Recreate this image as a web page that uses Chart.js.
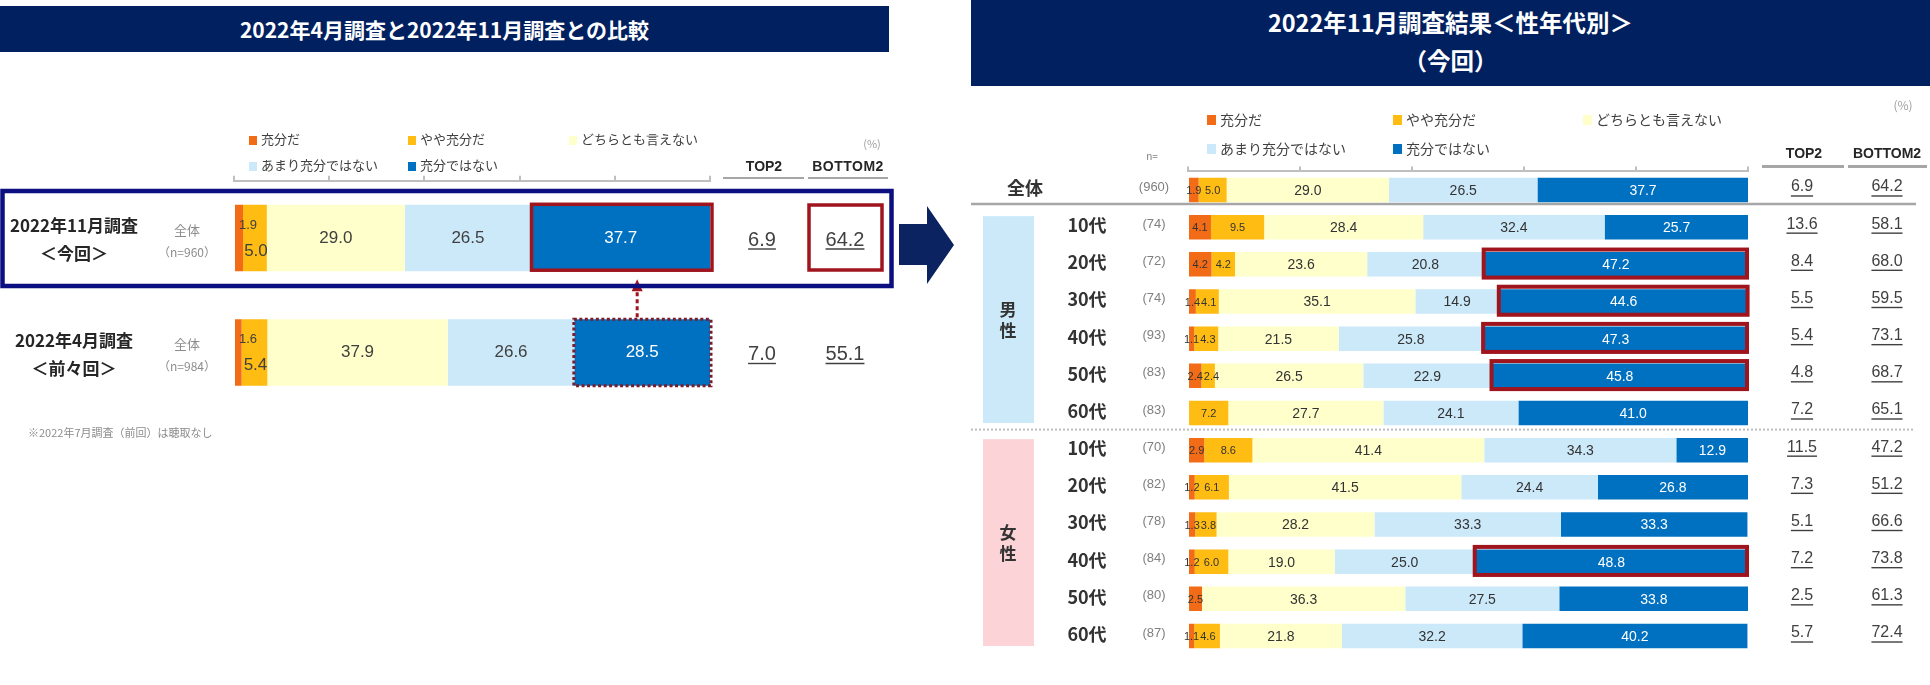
<!DOCTYPE html>
<html lang="ja">
<head>
<meta charset="utf-8">
<script src="https://cdn.jsdelivr.net/npm/chart.js@4.4.1/dist/chart.umd.min.js"></script>
<style>
html,body{margin:0;padding:0;background:#fff;width:1930px;height:685px;overflow:hidden;}
#stage{position:relative;width:1930px;height:685px;font-family:"Noto Sans CJK JP","Liberation Sans",sans-serif;color:#404040;}
canvas{position:absolute;left:0;top:0;}
.abs{position:absolute;white-space:nowrap;}
.bar{position:absolute;background:#002060;color:#fff;font-weight:bold;text-align:center;font-family:"Noto Sans CJK JP",sans-serif;}
.sq{position:absolute;}
.uline{position:absolute;background:#A6A6A6;}
</style>
</head>
<body>
<div id="stage">
  <canvas id="leftChart" width="1930" height="685"></canvas>
  <canvas id="rightChart" width="1930" height="685"></canvas>
  <div class="bar" style="left:0;top:6px;width:889px;height:46px;line-height:46px;font-size:21px;">2022年4月調査と2022年11月調査との比較</div>
  <div class="bar" style="left:971px;top:0;width:959px;height:86px;line-height:38px;padding-top:3px;box-sizing:border-box;font-size:23.5px;">2022年11月調査結果＜性年代別＞<br>（今回）</div>
</div>
<script>
// ---------- data ----------
const SERIES_NAMES = ['充分だ', 'やや充分だ', 'どちらとも言えない', 'あまり充分ではない', '充分ではない'];
const SERIES_COLORS = ['#F26B17', '#FFBC12', '#FFFFCC', '#CCE9FA', '#0070C0'];

const LEFT_CATEGORIES = ['2022年11月調査', '2022年4月調査'];
const LEFT_SUBLABELS = ['＜今回＞', '＜前々回＞'];
const LEFT_GROUP = ['全体', '全体'];
const LEFT_N = ['（n=960）', '（n=984）'];
const LEFT_JUUBUN = [1.9, 1.6];
const LEFT_YAYA = [5.0, 5.4];
const LEFT_DOCHIRA = [29.0, 37.9];
const LEFT_AMARI = [26.5, 26.6];
const LEFT_NOT = [37.7, 28.5];
const LEFT_TOP2 = [6.9, 7.0];
const LEFT_BOTTOM2 = [64.2, 55.1];

const RIGHT_CATEGORIES = ['全体', '10代', '20代', '30代', '40代', '50代', '60代', '10代', '20代', '30代', '40代', '50代', '60代'];
const RIGHT_GROUP_LABELS = ['男性', '女性'];
const RIGHT_GROUP_SIZES = [6, 6];
const RIGHT_N = [960, 74, 72, 74, 93, 83, 83, 70, 82, 78, 84, 80, 87];
const RIGHT_JUUBUN = [1.9, 4.1, 4.2, 1.4, 1.1, 2.4, 0, 2.9, 1.2, 1.3, 1.2, 2.5, 1.1];
const RIGHT_YAYA = [5.0, 9.5, 4.2, 4.1, 4.3, 2.4, 7.2, 8.6, 6.1, 3.8, 6.0, 0, 4.6];
const RIGHT_DOCHIRA = [29.0, 28.4, 23.6, 35.1, 21.5, 26.5, 27.7, 41.4, 41.5, 28.2, 19.0, 36.3, 21.8];
const RIGHT_AMARI = [26.5, 32.4, 20.8, 14.9, 25.8, 22.9, 24.1, 34.3, 24.4, 33.3, 25.0, 27.5, 32.2];
const RIGHT_NOT = [37.7, 25.7, 47.2, 44.6, 47.3, 45.8, 41.0, 12.9, 26.8, 33.3, 48.8, 33.8, 40.2];
const RIGHT_TOP2 = [6.9, 13.6, 8.4, 5.5, 5.4, 4.8, 7.2, 11.5, 7.3, 5.1, 7.2, 2.5, 5.7];
const RIGHT_BOTTOM2 = [64.2, 58.1, 68.0, 59.5, 73.1, 68.7, 65.1, 47.2, 51.2, 66.6, 73.8, 61.3, 72.4];
const RIGHT_HIGHLIGHT = [false, false, true, true, true, true, false, false, false, false, true, false, false];

const LEFT_SERIES = [LEFT_JUUBUN, LEFT_YAYA, LEFT_DOCHIRA, LEFT_AMARI, LEFT_NOT];
const RIGHT_SERIES = [RIGHT_JUUBUN, RIGHT_YAYA, RIGHT_DOCHIRA, RIGHT_AMARI, RIGHT_NOT];

// ---------- html text helpers ----------
const stage = document.getElementById('stage');
function put(text, x, cy, style, align) {
  const d = document.createElement('div');
  d.className = 'abs';
  d.textContent = text;
  Object.assign(d.style, style || {});
  const fs = parseFloat(d.style.fontSize) || 12;
  const h = Math.round(fs * 1.5);
  d.style.height = h + 'px';
  d.style.lineHeight = h + 'px';
  d.style.top = (cy - h / 2) + 'px';
  if (align === 'left') { d.style.left = x + 'px'; }
  else { d.style.left = (x - 300) + 'px'; d.style.width = '600px'; d.style.textAlign = 'center'; }
  stage.appendChild(d);
  return d;
}
function box(cls, x, y, w, h, color) {
  const d = document.createElement('div');
  d.className = cls;
  d.style.left = x + 'px'; d.style.top = y + 'px'; d.style.width = w + 'px'; d.style.height = h + 'px';
  if (color) d.style.background = color;
  stage.appendChild(d);
}
function legend(cols, rows, fs, sqW, sqH, gap) {
  SERIES_NAMES.forEach((name, i) => {
    const r = i < 3 ? 0 : 1, c = i < 3 ? i : i - 3;
    box('sq', cols[c], rows[r] - sqH / 2 + 1, sqW, sqH, SERIES_COLORS[i]);
    put(name, cols[c] + sqW + gap, rows[r], { fontSize: fs + 'px', color: '#404040' }, 'left');
  });
}
// left panel header
legend([249, 408, 569], [139, 165], 13, 8, 9, 4);
put('(%)', 872, 143, { fontSize: '11px', color: '#A0A0A0' });
put('TOP2', 764, 166, { fontSize: '14px', fontWeight: 'bold', color: '#262626', fontFamily: '"Liberation Sans",sans-serif' });
put('BOTTOM2', 848, 166, { fontSize: '14px', fontWeight: 'bold', color: '#262626', fontFamily: '"Liberation Sans",sans-serif', letterSpacing: '0.5px' });
box('uline', 723, 177, 81, 2);
box('uline', 808, 177, 80, 2);
put('※2022年7月調査（前回）は聴取なし', 28, 432, { fontSize: '11px', color: '#8C8C8C' }, 'left');
// right panel header
legend([1207, 1393, 1583], [119, 148], 14, 9, 10, 4);
put('(%)', 1903, 105, { fontSize: '12px', color: '#A0A0A0' });
put('n=', 1152, 155, { fontSize: '10px', color: '#808080' });
put('TOP2', 1804, 153, { fontSize: '14px', fontWeight: 'bold', color: '#262626', fontFamily: '"Liberation Sans",sans-serif' });
put('BOTTOM2', 1887, 153, { fontSize: '14px', fontWeight: 'bold', color: '#262626', fontFamily: '"Liberation Sans",sans-serif' });
box('uline', 1762, 165, 82, 3);
box('uline', 1848, 165, 79, 3);

// ---------- canvas helpers ----------
const NUM_FONT = '"Liberation Sans", Arial, sans-serif';
const JP_FONT = '"Noto Sans CJK JP", sans-serif';
function underlined(ctx, text, x, y, font, color) {
  ctx.font = font; ctx.fillStyle = color; ctx.textAlign = 'center'; ctx.textBaseline = 'middle';
  ctx.fillText(text, x, y);
  const w = ctx.measureText(text).width;
  ctx.strokeStyle = color; ctx.lineWidth = 1.4; ctx.setLineDash([]);
  ctx.beginPath(); ctx.moveTo(x - w / 2, y + 9); ctx.lineTo(x + w / 2, y + 9); ctx.stroke();
}
function elProps(chart, di, j) {
  return chart.getDatasetMeta(di).data[j].getProps(['x', 'y', 'base', 'height'], true);
}

// ---------- left chart decorations ----------
const leftDecor = {
  id: 'leftDecor',
  afterDatasetsDraw(chart) {
    const ctx = chart.ctx;
    const ys = chart.scales.y;
    ctx.save();
    chart.data.datasets.forEach((ds, di) => {
      ds.data.forEach((v, j) => {
        if (!v) return;
        const p = elProps(chart, di, j);
        const cx = (p.x + p.base) / 2;
        ctx.fillStyle = di === 4 ? '#FFFFFF' : '#404040';
        ctx.textBaseline = 'middle';
        if (di === 0) {
          ctx.font = '13px ' + NUM_FONT; ctx.textAlign = 'left';
          ctx.fillText(v.toFixed(1), p.base + 4, p.y - 13);
        } else if (di === 1) {
          ctx.font = '17px ' + NUM_FONT; ctx.textAlign = 'center';
          ctx.fillText(v.toFixed(1), cx + 1, p.y + 13);
        } else {
          ctx.font = '17px ' + NUM_FONT; ctx.textAlign = 'center';
          ctx.fillText(v.toFixed(1), cx, p.y);
        }
      });
    });
    LEFT_CATEGORIES.forEach((lab, j) => {
      const y = ys.getPixelForValue(j);
      ctx.fillStyle = '#262626'; ctx.textAlign = 'center'; ctx.textBaseline = 'middle';
      ctx.font = 'bold 17px ' + JP_FONT;
      ctx.fillText(lab, 74, y - 12);
      ctx.fillText(LEFT_SUBLABELS[j], 74, y + 16);
      ctx.fillStyle = '#8C8C8C';
      ctx.font = '13px ' + JP_FONT;
      ctx.fillText(LEFT_GROUP[j], 187, y - 8);
      ctx.font = '12px ' + JP_FONT;
      ctx.fillText(LEFT_N[j], 187, y + 14);
      underlined(ctx, LEFT_TOP2[j].toFixed(1), 762, y + 2, '20px ' + NUM_FONT, '#404040');
      underlined(ctx, LEFT_BOTTOM2[j].toFixed(1), 845, y + 2, '20px ' + NUM_FONT, '#404040');
    });
    const a = elProps(chart, 4, 0);
    ctx.strokeStyle = '#A0141E'; ctx.lineWidth = 3.5; ctx.setLineDash([]);
    ctx.strokeRect(a.base + 0.5, a.y - a.height / 2 - 0.5, a.x - a.base + 1, a.height - 0.5);
    const y0 = ys.getPixelForValue(0);
    ctx.strokeRect(809, y0 - 33, 73, 65);
    const b = elProps(chart, 4, 1);
    ctx.strokeStyle = '#7A1C2C'; ctx.lineWidth = 3; ctx.setLineDash([3, 2.5]);
    ctx.strokeRect(b.base - 0.5, b.y - b.height / 2, b.x - b.base + 1.5, b.height);
    const ax = (b.x + b.base) / 2 - 5;
    const yTop = a.y + a.height / 2 + 8;
    const yBot = b.y - b.height / 2 - 2;
    ctx.strokeStyle = '#A0141E'; ctx.lineWidth = 3; ctx.setLineDash([4, 3]);
    ctx.beginPath(); ctx.moveTo(ax, yBot); ctx.lineTo(ax, yTop + 10); ctx.stroke();
    ctx.setLineDash([]);
    ctx.fillStyle = '#A0141E';
    ctx.beginPath(); ctx.moveTo(ax, yTop); ctx.lineTo(ax + 5.5, yTop + 12); ctx.lineTo(ax - 5.5, yTop + 12); ctx.closePath(); ctx.fill();
    ctx.strokeStyle = '#0B0F80'; ctx.lineWidth = 4.5;
    ctx.strokeRect(2.5, y0 - 47, 889, 95);
    ctx.fillStyle = '#0B2461';
    ctx.beginPath();
    ctx.moveTo(899, 224); ctx.lineTo(927, 224); ctx.lineTo(927, 206); ctx.lineTo(954, 245);
    ctx.lineTo(927, 284); ctx.lineTo(927, 265); ctx.lineTo(899, 265); ctx.closePath(); ctx.fill();
    ctx.restore();
  }
};

// ---------- right chart decorations ----------
const rightDecor = {
  id: 'rightDecor',
  beforeDatasetsDraw(chart) {
    const ctx = chart.ctx;
    const ys = chart.scales.y;
    ctx.save();
    const fills = ['#CCE9FA', '#FCD3D6'];
    let start = 1;
    RIGHT_GROUP_SIZES.forEach((n, g) => {
      const top = ys.getPixelForValue(start) - 11;
      const bot = ys.getPixelForValue(start + n - 1) + 10;
      ctx.fillStyle = fills[g];
      ctx.fillRect(983, top, 51, bot - top);
      const mid = (top + bot) / 2;
      ctx.fillStyle = '#333333'; ctx.font = 'bold 17px ' + JP_FONT;
      ctx.textAlign = 'center'; ctx.textBaseline = 'middle';
      const chars = Array.from(RIGHT_GROUP_LABELS[g]);
      chars.forEach((ch, k) => ctx.fillText(ch, 1008, mid + (k - (chars.length - 1) / 2) * 21));
      start += n;
    });
    const ySep = ys.getPixelForValue(0) + 14;
    ctx.strokeStyle = '#A6A6A6'; ctx.lineWidth = 2.5;
    ctx.beginPath(); ctx.moveTo(971, ySep); ctx.lineTo(1916, ySep); ctx.stroke();
    const yDot = (ys.getPixelForValue(RIGHT_GROUP_SIZES[0]) + ys.getPixelForValue(RIGHT_GROUP_SIZES[0] + 1)) / 2 - 2;
    ctx.strokeStyle = '#BDBDBD'; ctx.lineWidth = 2; ctx.setLineDash([2, 2]);
    ctx.beginPath(); ctx.moveTo(971, yDot); ctx.lineTo(1913, yDot); ctx.stroke();
    ctx.restore();
  },
  afterDatasetsDraw(chart) {
    const ctx = chart.ctx;
    const ys = chart.scales.y;
    ctx.save();
    ctx.textAlign = 'center'; ctx.textBaseline = 'middle';
    const prevRight = {};
    chart.data.datasets.forEach((ds, di) => {
      ds.data.forEach((v, j) => {
        if (!v) return;
        const p = elProps(chart, di, j);
        let cx = (p.x + p.base) / 2;
        ctx.font = (v < 10 ? '11px ' : '14px ') + NUM_FONT;
        const txt = v.toFixed(1);
        const w = ctx.measureText(txt).width;
        if (prevRight[j] !== undefined && cx - w / 2 < prevRight[j] + 1) cx = prevRight[j] + 1 + w / 2;
        prevRight[j] = cx + w / 2;
        ctx.fillStyle = di === 4 ? '#FFFFFF' : '#333333';
        ctx.fillText(txt, cx, p.y + 1);
      });
    });
    RIGHT_CATEGORIES.forEach((lab, j) => {
      const y = ys.getPixelForValue(j);
      ctx.textAlign = 'center'; ctx.textBaseline = 'middle';
      ctx.fillStyle = '#333333';
      ctx.font = 'bold 18px ' + JP_FONT;
      ctx.fillText(lab, j === 0 ? 1025 : 1087, y - 2);
      ctx.fillStyle = '#7F7F7F';
      ctx.font = '13px ' + NUM_FONT;
      ctx.fillText('(' + RIGHT_N[j] + ')', 1154, y - 3);
      underlined(ctx, RIGHT_TOP2[j].toFixed(1), 1802, y - 3, '16px ' + NUM_FONT, '#404040');
      underlined(ctx, RIGHT_BOTTOM2[j].toFixed(1), 1887, y - 3, '16px ' + NUM_FONT, '#404040');
      if (RIGHT_HIGHLIGHT[j]) {
        const p = elProps(chart, 4, j);
        ctx.strokeStyle = '#A0141E'; ctx.lineWidth = 4; ctx.setLineDash([]);
        ctx.strokeRect(p.base, p.y - p.height / 2 - 2.5, p.x - p.base - 1, p.height + 3.5);
      }
    });
    ctx.restore();
  }
};

// ---------- charts ----------
function axisX() {
  return {
    stacked: true, min: 0, max: 100, position: 'top',
    ticks: { display: false, stepSize: 20 },
    grid: { drawOnChartArea: false, drawTicks: true, tickLength: 5, color: '#BFBFBF', lineWidth: 2 },
    border: { display: true, color: '#BFBFBF', width: 2 },
    afterFit: (s) => { s.height = 8; }
  };
}
function makeDatasets(series, barPct) {
  return SERIES_NAMES.map((name, i) => ({
    label: name, data: series[i], backgroundColor: SERIES_COLORS[i],
    borderWidth: 0, barPercentage: barPct, categoryPercentage: 1
  }));
}

new Chart(document.getElementById('leftChart'), {
  type: 'bar',
  data: { labels: LEFT_CATEGORIES, datasets: makeDatasets(LEFT_SERIES, 0.58) },
  options: {
    indexAxis: 'y', responsive: false, animation: false, events: [],
    layout: { padding: { left: 234, right: 1220, top: 172.75, bottom: 275.25 } },
    scales: { x: axisX(), y: { stacked: true, display: false } },
    plugins: { legend: { display: false }, tooltip: { enabled: false } }
  },
  plugins: [leftDecor]
});

new Chart(document.getElementById('rightChart'), {
  type: 'bar',
  data: { labels: RIGHT_CATEGORIES, datasets: makeDatasets(RIGHT_SERIES, 0.66) },
  options: {
    indexAxis: 'y', responsive: false, animation: false, events: [],
    layout: { padding: { left: 1188, right: 182, top: 163.4, bottom: 30.4 } },
    scales: { x: axisX(), y: { stacked: true, display: false } },
    plugins: { legend: { display: false }, tooltip: { enabled: false } }
  },
  plugins: [rightDecor]
});
</script>
</body>
</html>
